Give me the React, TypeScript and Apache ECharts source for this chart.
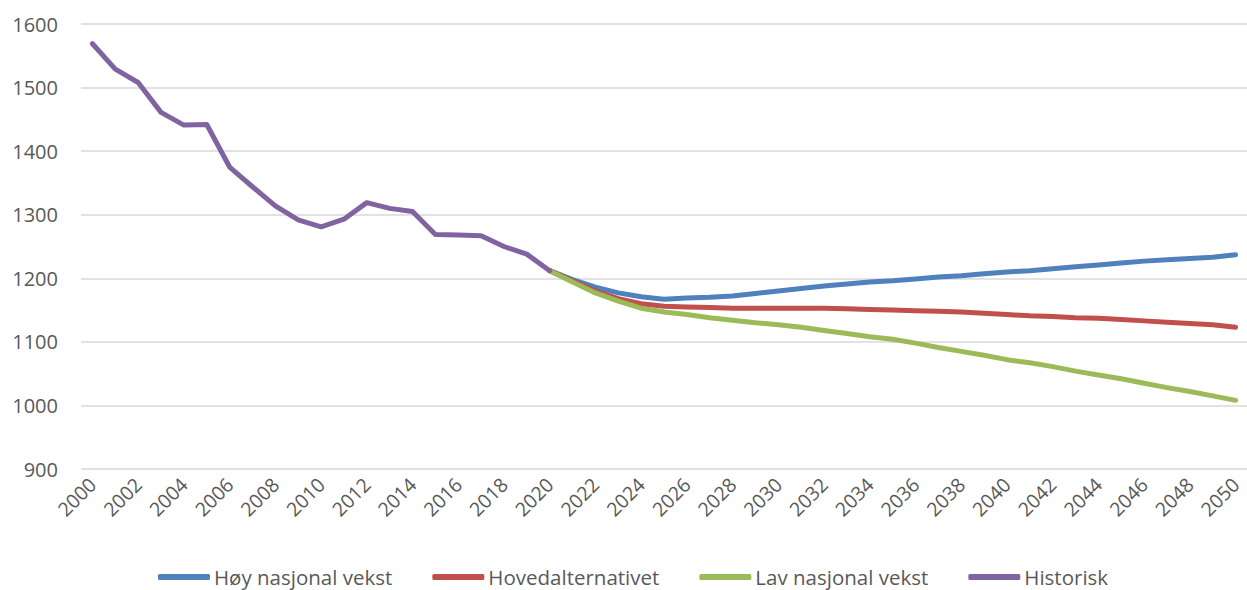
import React, { useEffect, useRef } from "react";
import * as echarts from "echarts";

const years: string[] = [];
for (let y = 2000; y <= 2050; y++) years.push(String(y));

const historisk = [
  1569, 1529, 1508, 1461, 1441, 1442, 1375, 1344, 1314, 1292, 1281, 1293, 1319,
  1310, 1305, 1269, 1268, 1267, 1250, 1238, 1212,
];

// Projections 2020–2050
const hoyVekst = [
  1212, 1198, 1186, 1177, 1171, 1167, 1169, 1170, 1172, 1176, 1180, 1184, 1188,
  1191, 1194, 1196, 1199, 1202, 1204, 1207, 1210, 1212, 1215, 1218, 1221, 1224,
  1227, 1229, 1231, 1233, 1237,
];
const hovedalternativet = [
  1212, 1196, 1180, 1168, 1160, 1156, 1155, 1154, 1153, 1153, 1153, 1153, 1153,
  1152, 1151, 1150, 1149, 1148, 1147, 1145, 1143, 1141, 1140, 1138, 1137, 1135,
  1133, 1131, 1129, 1127, 1123,
];
const lavVekst = [
  1212, 1194, 1177, 1164, 1153, 1147, 1143, 1138, 1134, 1130, 1127, 1123, 1118,
  1113, 1108, 1104, 1098, 1091, 1085, 1079, 1072, 1067, 1061, 1054, 1048, 1042,
  1035, 1028, 1022, 1015, 1008,
];

const projStart = 20; // index of 2020

const padHist = (v: number[]) =>
  years.map((_, i) => (i < v.length ? v[i] : null));
const padProj = (v: number[]) =>
  years.map((_, i) => (i >= projStart ? v[i - projStart] : null));

const FONT = "'Open Sans', sans-serif";
const TEXT = "#595959";

export default function App() {
  const ref = useRef<HTMLDivElement>(null);

  useEffect(() => {
    if (!ref.current) return;
    const chart = echarts.init(ref.current, undefined, { renderer: "svg" });

    const line = (name: string, color: string, data: (number | null)[]) => ({
      name,
      type: "line",
      data,
      showSymbol: false,
      symbol: "none",
      connectNulls: false,
      lineStyle: { color, width: 5, cap: "round", join: "round" },
      itemStyle: { color },
    });

    chart.setOption({
      animation: false,
      textStyle: { fontFamily: FONT },
      grid: { left: 81, top: 24, width: 1171, height: 445 },
      xAxis: {
        type: "category",
        data: years,
        boundaryGap: true,
        axisLine: { show: false },
        axisTick: { show: false },
        axisLabel: {
          interval: 1,
          rotate: 45,
          color: TEXT,
          fontSize: 19.5,
          fontFamily: FONT,
          margin: 12,
        },
      },
      yAxis: {
        type: "value",
        min: 900,
        max: 1600,
        interval: 100,
        axisLine: { show: false },
        axisTick: { show: false },
        axisLabel: {
          color: TEXT,
          fontSize: 20,
          fontFamily: FONT,
          margin: 23,
          formatter: (v: number) => String(v),
        },
        splitLine: { lineStyle: { color: "#d9d9d9", width: 1.5 } },
      },
      legend: {
        left: 158,
        top: 566,
        padding: 0,
        itemWidth: 52,
        itemHeight: 6,
        itemGap: 40,
        icon: "roundRect",
        textStyle: {
          color: TEXT,
          fontSize: 20.5,
          lineHeight: 22,
          fontFamily: FONT,
          padding: [0, 0, 0, -1],
        },
        data: ["Høy nasjonal vekst", "Hovedalternativet", "Lav nasjonal vekst", "Historisk"],
      },
      series: [
        line("Høy nasjonal vekst", "#4F81BD", padProj(hoyVekst)),
        line("Hovedalternativet", "#C0504D", padProj(hovedalternativet)),
        line("Lav nasjonal vekst", "#9BBB59", padProj(lavVekst)),
        line("Historisk", "#8064A2", padHist(historisk)),
      ],
    });

    return () => chart.dispose();
  }, []);

  return (
    <div
      ref={ref}
      style={{ position: "absolute", left: 0, top: 0, width: 1247, height: 590, background: "#fff" }}
    />
  );
}
